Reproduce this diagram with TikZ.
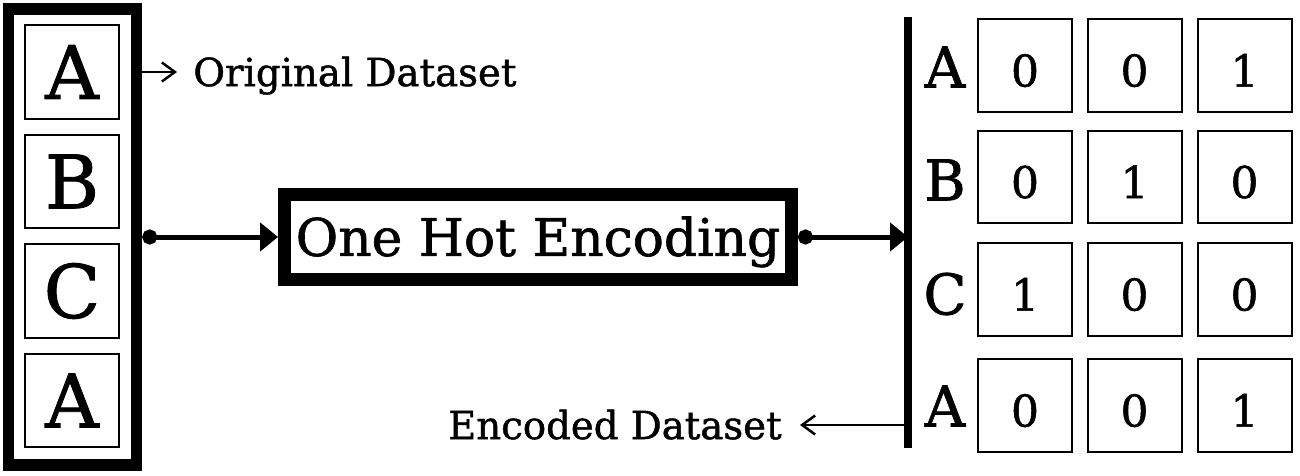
\documentclass[tikz,border=0pt]{standalone}
\usepackage{fontspec}
\setmainfont{DejaVu Serif}[FakeBold=1.2]
\usepackage{tikz}
\usetikzlibrary{arrows.meta}
\tikzset{
    frame/.style={rectangle, draw, line width=0.23cm, minimum width=2.56cm, minimum height=9.12cm, inner sep=0pt},
    letterbox/.style={rectangle, draw, line width=0.04cm, minimum width=1.88cm, minimum height=1.88cm, inner sep=0pt, font=\fontsize{42}{42}\selectfont, text height=30.6pt, text depth=0pt},
    encbox/.style={rectangle, draw, line width=0.26cm, minimum width=10.14cm, minimum height=1.72cm, inner sep=0pt, font=\fontsize{29.5}{29.5}\selectfont, text height=21.5pt, text depth=0pt},
    cell/.style={rectangle, draw, line width=0.04cm, minimum width=1.88cm, minimum height=1.86cm, inner sep=0pt, font=\fontsize{25}{25}\selectfont, text height=24pt, text depth=0pt},
    rowtag/.style={inner sep=0pt, font=\fontsize{32}{32}\selectfont, text height=23.3pt, text depth=0pt},
    dataname/.style={inner sep=0pt, font=\fontsize{22}{22}\selectfont, text height=16pt, text depth=0pt},
    flow/.style={{Circle[length=0.3cm]}-{Triangle[length=0.36cm, width=0.56cm]}, line width=0.1cm},
    pointer/.style={-{Straight Barb[length=0.26cm, width=0.38cm]}, line width=0.05cm},
    bar/.style={line width=0.16cm}
}
\begin{document}
\begin{tikzpicture}[x=0.02cm, y=-0.02cm]
    \useasboundingbox (0,0) rectangle (1300,476);

    % Original dataset
    \node[frame] (frame) at (72.5,237) {};
    \node[letterbox] (a1) at (72,72) {A};
    \node[letterbox] (b1) at (72,181.5) {B};
    \node[letterbox] (c1) at (72,291) {C};
    \node[letterbox] (a2) at (72,400.5) {A};
    \node[dataname, anchor=west] (origtag) at (193,72) {Original Dataset};

    % Encoder
    \node[encbox] (enc) at (538,237) {One Hot Encoding};

    % Encoded dataset
    \coordinate (bartop) at (908,17);
    \coordinate (barbot) at (908,448);
    \node[rowtag] (ra1) at (945,67) {A};
    \node[rowtag] (rb1) at (945,180) {B};
    \node[rowtag] (rc1) at (945,294) {C};
    \node[rowtag] (ra2) at (945,406) {A};
    \node[cell] (c11) at (1025,65.5) {0};
    \node[cell] (c12) at (1134.5,65.5) {0};
    \node[cell] (c13) at (1244.5,65.5) {1};
    \node[cell] (c21) at (1025,177) {0};
    \node[cell] (c22) at (1134.5,177) {1};
    \node[cell] (c23) at (1244.5,177) {0};
    \node[cell] (c31) at (1025,289.5) {1};
    \node[cell] (c32) at (1134.5,289.5) {0};
    \node[cell] (c33) at (1244.5,289.5) {0};
    \node[cell] (c41) at (1025,405.5) {0};
    \node[cell] (c42) at (1134.5,405.5) {0};
    \node[cell] (c43) at (1244.5,405.5) {1};
    \node[dataname, anchor=east] (enctag) at (782,425) {Encoded Dataset};

    % Connections
    \draw[flow] (frame) -- (enc);
    \draw[flow] (enc.east) -- (enc.east -| bartop);
    \draw[pointer] (frame.east |- origtag.west) -- ([xshift=-0.32cm]origtag.west);
    \draw[pointer] (bartop |- enctag.east) -- ([xshift=0.36cm]enctag.east);
    \draw[bar] (bartop) -- (barbot);
\end{tikzpicture}
\end{document}
